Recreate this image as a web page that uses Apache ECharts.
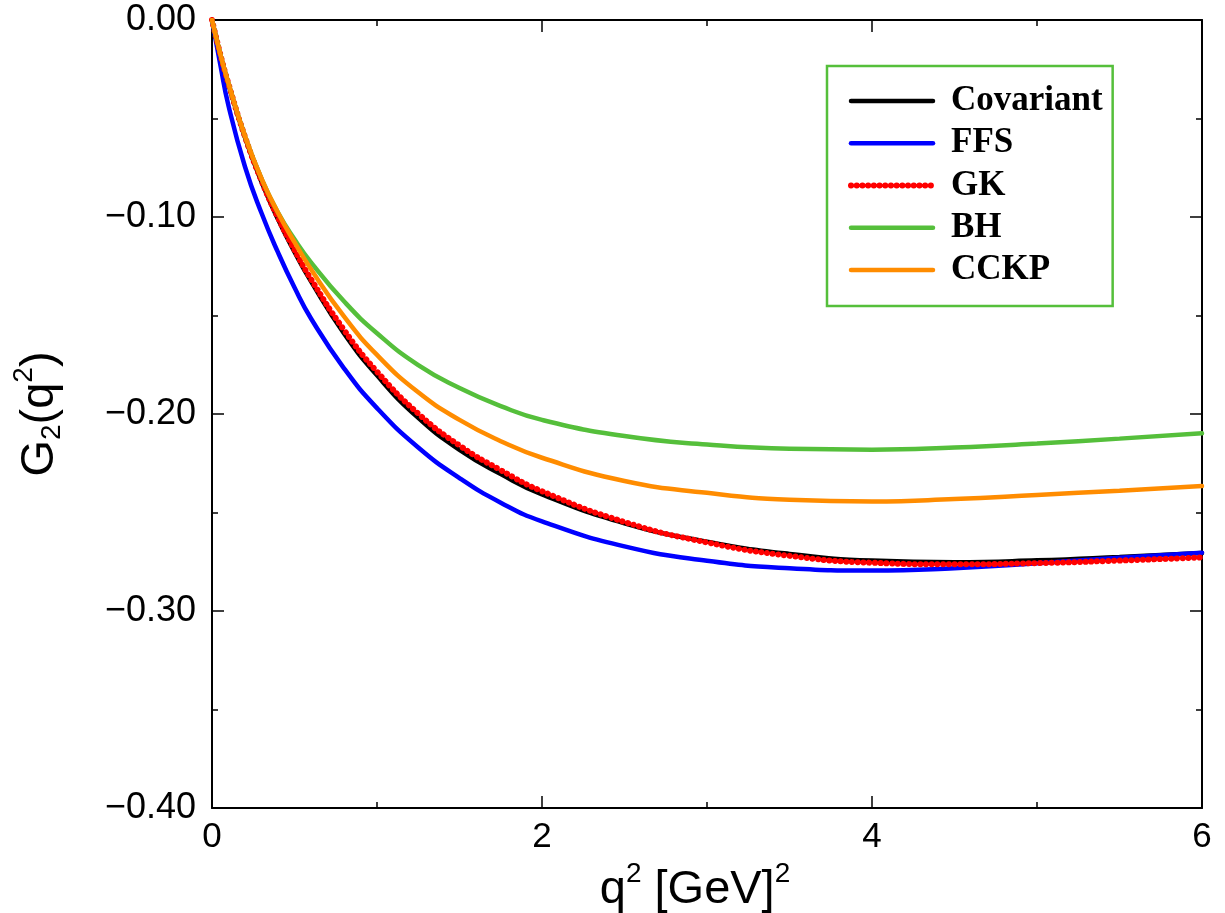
<!DOCTYPE html>
<html>
<head>
<meta charset="utf-8">
<script src="https://cdn.jsdelivr.net/npm/echarts@6/dist/echarts.min.js"></script>
<style>
html,body{margin:0;padding:0;background:#fff;}
#chart{width:1225px;height:913px;}
</style>
</head>
<body>
<div id="chart"></div>
<script>
// q^2 values [GeV^2]
const q2 = [0, 0.05, 0.1, 0.2, 0.3, 0.4, 0.5, 0.6, 0.8, 1.0, 1.25, 1.5, 1.75, 2.0, 2.5, 3.0, 3.5, 4.0, 4.5, 5.0, 5.5, 6.0];
const covariant = [0, -0.0175, -0.0327, -0.0597, -0.0822, -0.1012, -0.1177, -0.1327, -0.1591, -0.1804, -0.2020, -0.2182, -0.2305, -0.2408, -0.2555, -0.2648, -0.2710, -0.2744, -0.2752, -0.2743, -0.2726, -0.2706];
const ffs = [0, -0.0225, -0.0435, -0.0745, -0.0980, -0.1180, -0.1358, -0.1515, -0.1768, -0.1970, -0.2170, -0.2325, -0.2450, -0.2545, -0.2672, -0.2745, -0.2783, -0.2795, -0.2783, -0.2758, -0.2730, -0.2704];
const gk = [0, -0.0173, -0.0324, -0.0593, -0.0816, -0.1004, -0.1167, -0.1315, -0.1573, -0.1785, -0.1998, -0.2160, -0.2285, -0.2392, -0.2548, -0.2652, -0.2720, -0.2755, -0.2763, -0.2757, -0.2744, -0.2728];
const bh = [0, -0.0172, -0.0322, -0.0590, -0.0805, -0.0978, -0.1113, -0.1230, -0.1428, -0.1590, -0.1752, -0.1868, -0.1960, -0.2030, -0.2112, -0.2155, -0.2177, -0.2181, -0.2170, -0.2150, -0.2125, -0.2098];
const cckp = [0, -0.0172, -0.0322, -0.0590, -0.0805, -0.0978, -0.1128, -0.1265, -0.1505, -0.1700, -0.1890, -0.2030, -0.2138, -0.2222, -0.2340, -0.2400, -0.2435, -0.2444, -0.2432, -0.2411, -0.2389, -0.2366];
const seriesNames = ['Covariant', 'FFS', 'GK', 'BH', 'CCKP'];
const xTicks = [0, 2, 4, 6];

const pair = arr => q2.map((x, i) => [x, arr[i]]);
const chart = echarts.init(document.getElementById('chart'));
const axisFont = 'Liberation Sans, Arial, sans-serif';

const commonX = {
  type: 'value', min: 0, max: 6, interval: 2,
  axisLine: { show: true, onZero: false, lineStyle: { color: '#000', width: 2 } },
  axisTick: { show: true, inside: true, length: 12, lineStyle: { color: '#000', width: 1.5 } },
  minorTick: { show: true, splitNumber: 2, length: 6, lineStyle: { color: '#000', width: 1.5 } },
  splitLine: { show: false }, minorSplitLine: { show: false }
};
const commonY = {
  type: 'value', min: -0.4, max: 0, interval: 0.1,
  axisLine: { show: true, onZero: false, lineStyle: { color: '#000', width: 2 } },
  axisTick: { show: true, inside: true, length: 12, lineStyle: { color: '#000', width: 1.5 } },
  minorTick: { show: true, splitNumber: 2, length: 6, lineStyle: { color: '#000', width: 1.5 } },
  splitLine: { show: false }, minorSplitLine: { show: false }
};

const styles = {
  Covariant: { color: '#000000', width: 4.5 },
  FFS: { color: '#0000ff', width: 4.5 },
  GK: { color: '#ff0000', width: 6, type: [0.1, 5.6], cap: 'round' },
  BH: { color: '#55bf3b', width: 4.5 },
  CCKP: { color: '#ff8c00', width: 4.5 }
};

const mkLine = (name, arr) => ({
  name, type: 'line', data: pair(arr), showSymbol: false, symbol: 'none',
  smooth: 0.5,
  lineStyle: Object.assign({ cap: 'round' }, styles[name]),
  itemStyle: { color: styles[name].color }, z: 3
});

chart.setOption({
  animation: false,
  backgroundColor: '#fff',
  grid: { left: 212, right: 23, top: 20, bottom: 105, outerBoundsMode: 'none', containLabel: false },
  xAxis: [
    Object.assign({}, commonX, {
      position: 'bottom',
      axisLabel: { show: true, color: '#000', fontSize: 35, fontFamily: axisFont, margin: 12,
        formatter: v => xTicks.indexOf(v) >= 0 ? String(v) : '' },
      name: '{b|q}{sup|2}{b| [GeV]}{sup|2}',
      nameLocation: 'middle', nameGap: 44,
      nameTextStyle: {
        color: '#000', fontFamily: axisFont, padding: [0, 24, 0, 0],
        rich: {
          b: { fontSize: 47, fontFamily: axisFont, color: '#000' },
          sup: { fontSize: 28, fontFamily: axisFont, color: '#000', padding: [0, 0, 32, 0] }
        }
      }
    }),
    Object.assign({}, commonX, { position: 'top', axisLabel: { show: false } })
  ],
  yAxis: [
    Object.assign({}, commonY, {
      position: 'left',
      axisLabel: { show: true, color: '#000', fontSize: 36, fontFamily: axisFont, margin: 16,
        formatter: v => (Math.abs(v) < 1e-9 ? '0.00' : '\u2212' + Math.abs(v).toFixed(2)) },
      name: '{b|G}{sub|2}{b|(q}{sup|2}{b|)}',
      nameLocation: 'middle', nameGap: 142,
      nameTextStyle: {
        color: '#000', fontFamily: axisFont,
        rich: {
          b: { fontSize: 47, fontFamily: axisFont, color: '#000' },
          sub: { fontSize: 28, fontFamily: axisFont, color: '#000', padding: [24, 0, 0, 0] },
          sup: { fontSize: 28, fontFamily: axisFont, color: '#000', padding: [0, 0, 32, 0] }
        }
      }
    }),
    Object.assign({}, commonY, { position: 'right', axisLabel: { show: false } })
  ],
  legend: {
    show: true, orient: 'vertical', left: 827, top: 66,
    data: seriesNames.map(n => ({ name: n, lineStyle: Object.assign({ cap: 'round' }, styles[n]) })),
    itemWidth: 82, itemHeight: 14, itemGap: 0.25,
    padding: [14, 10, 15, 21],
    itemStyle: { opacity: 0 },
    borderColor: '#55bf3b', borderWidth: 2.5, borderRadius: 0,
    backgroundColor: '#fff',
    textStyle: { fontFamily: 'Liberation Serif, Times New Roman, serif', fontWeight: 'bold', fontSize: 35, color: '#000', lineHeight: 42, padding: [0, 0, 0, 13] }
  },
  series: seriesNames.map((n, i) => mkLine(n, [covariant, ffs, gk, bh, cckp][i]))
});
</script>
</body>
</html>
